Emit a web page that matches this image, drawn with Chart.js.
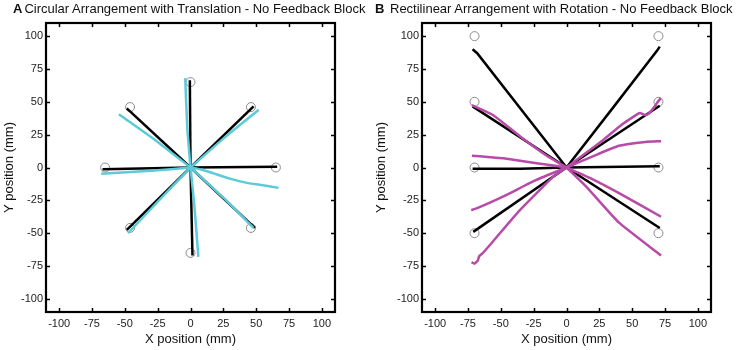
<!DOCTYPE html>
<html><head><meta charset="utf-8">
<script src="https://cdn.jsdelivr.net/npm/chart.js@4.4.1/dist/chart.umd.min.js"></script>
<style>
html,body{margin:0;padding:0;background:#fff;width:744px;height:350px;overflow:hidden;font-family:"Liberation Sans",Arial,sans-serif;}
.panel{position:absolute;top:0;width:372px;height:350px;}
.ttl{position:absolute;top:1px;font-size:13px;color:#111;white-space:nowrap;}
.ttl b{font-weight:bold;margin-right:2px;}
</style></head>
<body>
<div class="panel" style="left:0"><canvas id="cA" width="372" height="350"></canvas></div>
<div class="panel" style="left:372px"><canvas id="cB" width="372" height="350"></canvas></div>
<div class="ttl" style="left:13px"><b>A</b>Circular Arrangement with Translation - No Feedback Block</div>
<div class="ttl" style="left:375px"><b>B</b>&nbsp;Rectilinear Arrangement with Rotation - No Feedback Block</div>
<script>
// ---- data ----
const tickVals = [-100,-75,-50,-25,0,25,50,75,100];
const axisMin = -110, axisMax = 110;

// Panel A: targets (circular arrangement)
const targetsA = [[0,65],[46,46],[65,0],[46,-46],[0,-65],[-46,-46],[-65,0],[-46,46]];
// Panel A: black trajectories
const blackA = [
  [[0,0],[-0.5,66.5]],
  [[0,0],[48,46.5]],
  [[0,0],[66,0.5]],
  [[0,0],[49,-46]],
  [[0,0],[1.5,-67]],
  [[0,0],[-48.5,-47.5]],
  [[0,0],[-67,-1.3]],
  [[0,0],[-48.5,45]]
];
// Panel A: cyan trajectories
const cyanA = [
  [[0,0],[-2.5,31],[-4,68]],
  [[0,0],[25,22],[52,44]],
  [[0,0],[8,-1.5],[17,-4.3],[30,-8.5],[42,-11.5],[55,-13.5],[67,-15.5]],
  [[0,0],[25,-23],[48,-46]],
  [[0,0],[3,-30],[6,-68]],
  [[0,0],[-24,-25],[-47.5,-50]],
  [[0,0],[-30,-2.5],[-68,-4.8]],
  [[0,0],[-27,21],[-54.5,40.5]]
];

// Panel B: targets (rectilinear arrangement)
const targetsB = [[-70,100],[70,100],[-70,50],[70,50],[-70,0],[70,0],[-70,-50],[70,-50]];
// Panel B: black trajectories
const blackB = [
  [[-71.5,90],[-68,87],[0,0]],
  [[0,0],[35,45],[69,89],[71,92]],
  [[-71.5,46.5],[0,0]],
  [[0,0],[71,47]],
  [[-71.5,-1],[-35,-1],[0,0]],
  [[0,0],[71,1]],
  [[-71,-49],[0,0]],
  [[0,0],[71,-46]]
];
// Panel B: magenta trajectories
const magentaB = [
  [[-72,47.5],[-56,40],[-35,23.5],[-15,9],[0,0]],
  [[-72,9],[-60,8],[-48,7],[-22.7,3.3],[0,0]],
  [[-72.5,-32.5],[-68,-31],[-48,-22],[-23,-9.5],[0,0]],
  [[-72.3,-72],[-70,-73.2],[-67.4,-70.7],[-66.6,-67.7],[-63.6,-65],[-56,-56.3],[-36,-33],[-10,-7],[0,0]],
  [[0,0],[28,21],[42,32.5],[52,39.3],[55.9,41.4],[59.8,40],[62.4,40.8],[66.2,45.2],[68.8,49],[71.8,52.8]],
  [[0,0],[20,8.5],[40,16.5],[60,19.5],[72,20]],
  [[0,0],[20,-9],[40,-19.5],[72,-37.5]],
  [[0,0],[15,-14.5],[40,-42],[72,-67]]
];

const CYAN = '#5ccbd9', MAGENTA = '#b84aa8', BLACK = '#000', CIRCLE = '#8a8a8a';

const toPts = arr => arr.map(p => ({x:p[0], y:p[1]}));

function lineSets(list, color, tension){
  return list.map(tr => ({
    data: toPts(tr), showLine:true, borderColor:color, borderWidth:2.5,
    pointRadius:0, fill:false, tension:tension
  }));
}

const boxTicks = {
  id:'boxTicks',
  afterDatasetsDraw(chart){
    const ctx = chart.ctx, a = chart.chartArea;
    const xs = chart.scales.x, ys = chart.scales.y;
    ctx.save();
    ctx.strokeStyle = '#000';
    ctx.lineWidth = 1.5;
    ctx.beginPath();
    xs.ticks.forEach(t => {
      const px = Math.round(xs.getPixelForValue(t.value))+0.5;
      ctx.moveTo(px, a.bottom); ctx.lineTo(px, a.bottom-4);
      ctx.moveTo(px, a.top); ctx.lineTo(px, a.top+4);
    });
    ys.ticks.forEach(t => {
      const py = Math.round(ys.getPixelForValue(t.value))+0.5;
      ctx.moveTo(a.left, py); ctx.lineTo(a.left+4, py);
      ctx.moveTo(a.right, py); ctx.lineTo(a.right-4, py);
    });
    ctx.stroke();
    ctx.lineWidth = 2.2;
    ctx.strokeRect(a.left, a.top, a.right-a.left, a.bottom-a.top);
    ctx.restore();
  }
};

function makeChart(id, targets, blacks, colored, color, yWidth, rightPad){
  const datasets = [
    ...lineSets(colored, color, 0.15),
    ...lineSets(blacks, BLACK, 0),
    { data: toPts(targets), showLine:false, pointRadius:4.5, pointBorderWidth:1,
      pointBorderColor:CIRCLE, pointBackgroundColor:'rgba(255,255,255,0)' }
  ];
  return new Chart(document.getElementById(id), {
    type:'scatter',
    data:{datasets},
    options:{
      responsive:false, devicePixelRatio:1, animation:false,
      layout:{padding:{top:23, right:rightPad, bottom:0, left:0}},
      plugins:{legend:{display:false}, tooltip:{enabled:false}},
      scales:{
        x:{
          type:'linear', min:axisMin, max:axisMax,
          afterBuildTicks(s){ s.ticks = tickVals.map(v=>({value:v})); },
          afterFit(s){ s.height = 38; },
          grid:{display:false, drawTicks:false}, border:{display:false},
          ticks:{padding:5, color:'#222', font:{family:'"Liberation Sans", Arial', size:11}, maxRotation:0},
          title:{display:true, text:'X position (mm)', color:'#111', padding:{top:0,bottom:3},
                 font:{family:'"Liberation Sans", Arial', size:13}}
        },
        y:{
          type:'linear', min:axisMin, max:axisMax,
          afterBuildTicks(s){ s.ticks = tickVals.map(v=>({value:v})); },
          afterFit(s){ s.width = yWidth; },
          grid:{display:false, drawTicks:false}, border:{display:false},
          ticks:{padding:3, color:'#222', font:{family:'"Liberation Sans", Arial', size:11}},
          title:{display:true, text:'Y position (mm)', color:'#111', padding:{top:2,bottom:0},
                 font:{family:'"Liberation Sans", Arial', size:13}}
        }
      }
    },
    plugins:[boxTicks]
  });
}

makeChart('cA', targetsA, blackA, cyanA, CYAN, 46, 37);
makeChart('cB', targetsB, blackB, magentaB, MAGENTA, 50, 33);
</script>
</body></html>
